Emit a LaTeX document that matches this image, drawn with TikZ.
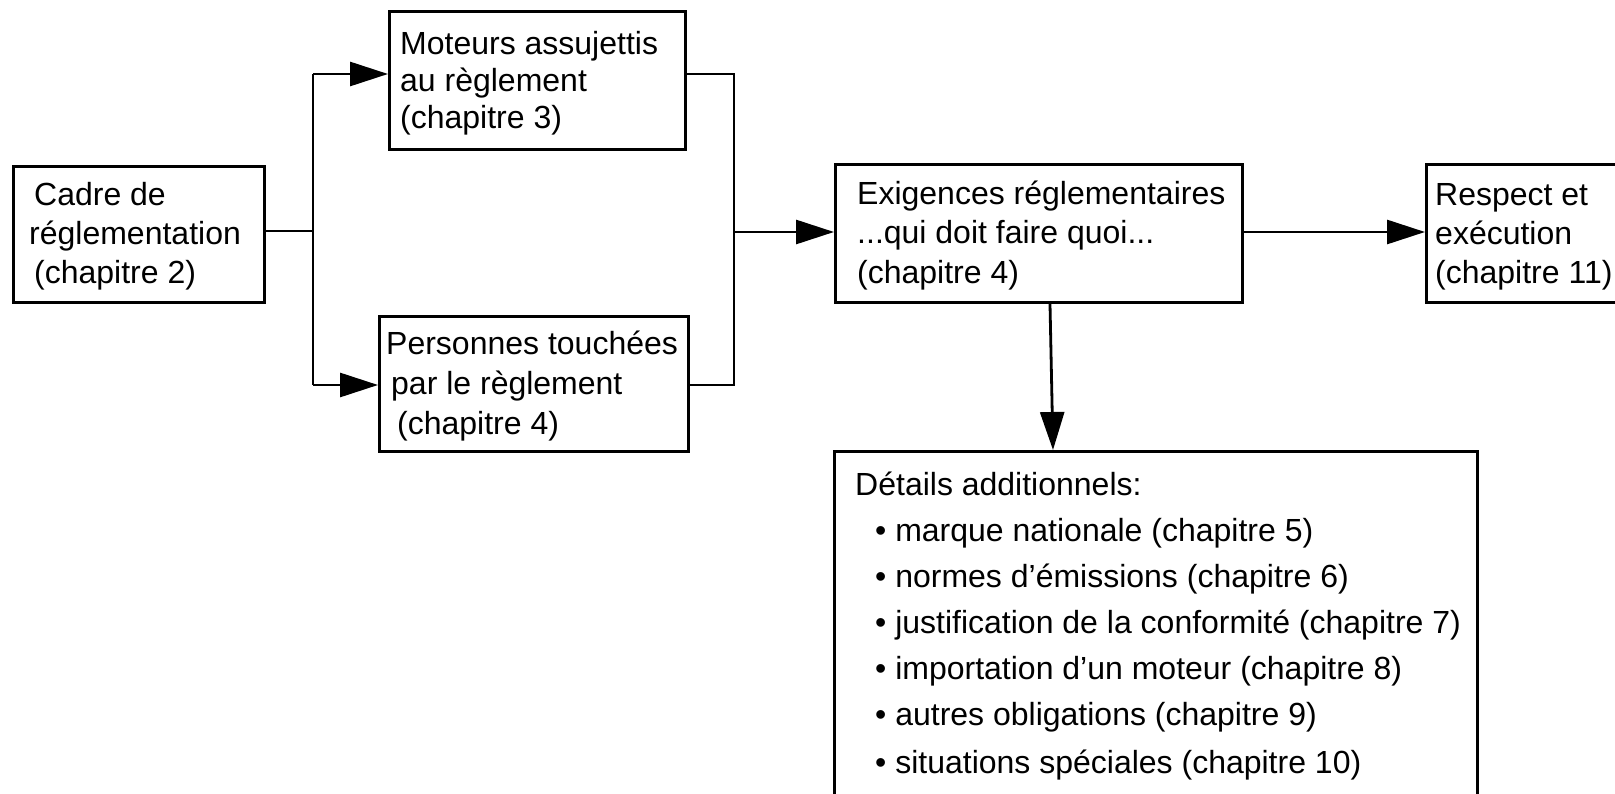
\documentclass[tikz,border=0pt]{standalone}
\usepackage{fontspec}
\setmainfont{Liberation Sans}
\usetikzlibrary{arrows.meta}
\begin{document}
\begin{tikzpicture}[x=1pt,y=-1pt,
  boxst/.style={draw,line width=3pt,inner sep=0pt},
  txt/.style={anchor=base west,inner sep=0pt,font=\fontsize{32}{39}\selectfont},
  conn/.style={line width=2.8pt},
  arr/.style={line width=2.8pt,-{Triangle[length=38pt,width=24pt]}}]
\useasboundingbox (0,0) rectangle (1615,794);
\begin{scope}
\clip (0,0) rectangle (1615,794);
% boxes
\node[boxst,minimum width=251pt,minimum height=136pt,anchor=north west] (cadre) at (12,165) {};
\node[boxst,minimum width=296pt,minimum height=138pt,anchor=north west] (moteurs) at (388,10) {};
\node[boxst,minimum width=309pt,minimum height=135pt,anchor=north west] (pers) at (378,315) {};
\node[boxst,minimum width=407pt,minimum height=138pt,anchor=north west] (exig) at (834,163) {};
\node[boxst,minimum width=260pt,minimum height=138pt,anchor=north west] (resp) at (1425,163) {};
\node[boxst,minimum width=643pt,minimum height=380pt,anchor=north west] (det) at (833,450) {};
% texts
\node[txt] (c1) at (34,206) {Cadre de};
\node[txt] (c2) at (29,245) {réglementation};
\node[txt] (c3) at (34,284) {(chapitre 2)};
\node[txt] (m1) at (400,55) {Moteurs assujettis};
\node[txt] (m2) at (400,92) {au règlement};
\node[txt] (m3) at (400,129) {(chapitre 3)};
\node[txt] (p1) at (386,355) {Personnes touchées};
\node[txt] (p2) at (391,394) {par le règlement};
\node[txt] (p3) at (397,434) {(chapitre 4)};
\node[txt] (e1) at (857,205) {Exigences réglementaires};
\node[txt] (e2) at (857,244) {...qui doit faire quoi...};
\node[txt] (e3) at (857,284) {(chapitre 4)};
\node[txt] (r1) at (1435,206) {Respect et};
\node[txt] (r2) at (1435,245) {exécution};
\node[txt] (r3) at (1435,284) {(chapitre 11)};
\node[txt] (d0) at (855,495) {Détails additionnels:};
\node[txt] (d1) at (875,541) {• marque nationale (chapitre 5)};
\node[txt] (d2) at (875,587) {• normes d’émissions (chapitre 6)};
\node[txt] (d3) at (875,633) {• justification de la conformité (chapitre 7)};
\node[txt] (d4) at (875,679) {• importation d’un moteur (chapitre 8)};
\node[txt] (d5) at (875,725) {• autres obligations (chapitre 9)};
\node[txt] (d6) at (875,773) {• situations spéciales (chapitre 10)};
% connectors
\coordinate (s1) at (313,231);
\coordinate (s1t) at (313,74);
\coordinate (s1b) at (313,385);
\coordinate (s2) at (734,232);
\coordinate (s2t) at (734,74);
\coordinate (s2b) at (734,385);
\draw[conn] (cadre.east |- s1) -- (s1);
\draw[conn] (s1t) -- (s1b);
\draw[arr] (s1t) -- (moteurs.west |- s1t);
\draw[arr] (s1b) -- (pers.west |- s1b);
\draw[conn] (moteurs.east |- s2t) -- (s2t) -- (s2b) -- (pers.east |- s2b);
\draw[arr] (s2) -- (exig.west |- s2);
\draw[arr] (exig.east |- s2) -- (resp.west |- s2);
\draw[arr] (exig.south -| 1050,0) -- (det.north -| 1053,0);
\end{scope}
\end{tikzpicture}
\end{document}
